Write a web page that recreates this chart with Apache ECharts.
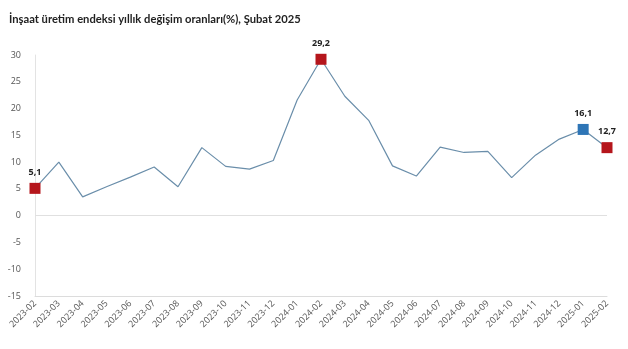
<!DOCTYPE html>
<html><head><meta charset="utf-8">
<script src="https://cdn.jsdelivr.net/npm/echarts@6/dist/echarts.min.js"></script>
<style>html,body{margin:0;padding:0;background:#fff}#c{width:628px;height:349px}</style>
</head><body><div id="c"></div>
<script>
var categories = ['2023-02','2023-03','2023-04','2023-05','2023-06','2023-07','2023-08','2023-09','2023-10','2023-11','2023-12','2024-01','2024-02','2024-03','2024-04','2024-05','2024-06','2024-07','2024-08','2024-09','2024-10','2024-11','2024-12','2025-01','2025-02'];
var values = [5.1,10.0,3.5,5.4,7.2,9.1,5.4,12.7,9.2,8.7,10.3,21.6,29.2,22.3,17.8,9.3,7.4,12.8,11.8,12.0,7.1,11.3,14.3,16.1,12.7];
var highlightIdx = [0,12,23,24];
var highlightColor = ['#b5161c','#b5161c','#2e75b6','#b5161c'];
var yTicks = {min:-15, max:30, interval:5};

var data = values.map(function(v,i){
  var k = highlightIdx.indexOf(i);
  if (k < 0) return {value:v, symbol:'none'};
  return {value:v, symbol:'rect', symbolSize:11,
    itemStyle:{color:highlightColor[k]},
    label:{show:true, position:'top', distance:6,
      formatter:function(p){return String(p.value).replace('.',',');},
      fontSize:9, fontWeight:'bold', color:'#222', fontFamily:'Open Sans'}};
});

var chart = echarts.init(document.getElementById('c'));
chart.setOption({
  animation:false,
  title:{text:'İnşaat üretim endeksi yıllık değişim oranları(%), Şubat 2025', left:4, top:9,
    textStyle:{fontSize:11.2, fontWeight:'bold', color:'#222', fontFamily:'Lato'}},
  grid:{left:35, right:21, top:55, bottom:53},
  xAxis:{type:'category', data:categories, boundaryGap:false,
    axisLine:{onZero:false, lineStyle:{color:'#dcdcdc'}}, axisTick:{show:false},
    axisLabel:{rotate:45, fontSize:9, color:'#555', interval:0, margin:6, fontFamily:'Open Sans'},
    splitLine:{show:false}},
  yAxis:{type:'value', min:yTicks.min, max:yTicks.max, interval:yTicks.interval,
    axisLine:{show:true, lineStyle:{color:'#e3e3e3'}}, axisTick:{show:false},
    axisLabel:{fontSize:9, color:'#555', margin:14, fontFamily:'Open Sans'},
    splitLine:{show:false}},
  series:[{type:'line', data:data, showSymbol:true, showAllSymbol:true, symbol:'none',
    lineStyle:{color:'#6a8eaa', width:1.2},
    markLine:{silent:true, symbol:'none', label:{show:false},
      lineStyle:{color:'#e0e0e0', type:'solid', width:1}, data:[{yAxis:0}]}}]
});
</script></body></html>
